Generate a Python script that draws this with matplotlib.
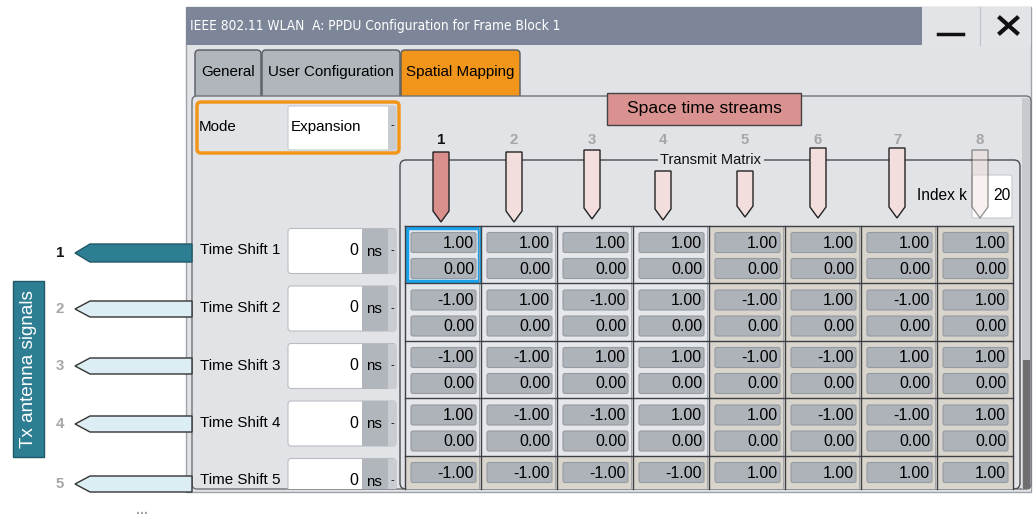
import matplotlib
matplotlib.use('Agg')
import matplotlib.pyplot as plt
from matplotlib import font_manager
from matplotlib.patches import Rectangle, FancyBboxPatch, Polygon

# dialog content
title = 'IEEE 802.11 WLAN  A: PPDU Configuration for Frame Block 1'
tabs = ['General', 'User Configuration', 'Spatial Mapping']
active_tab = 2
mode = 'Expansion'
streams = ['1', '2', '3', '4', '5', '6', '7', '8']
antennas = ['1', '2', '3', '4', '5']
time_shift = [0, 0, 0, 0, 0]
time_unit = 'ns'
index_k = 20
matrix_re = [
    [1, 1, 1, 1, 1, 1, 1, 1],
    [-1, 1, -1, 1, -1, 1, -1, 1],
    [-1, -1, 1, 1, -1, -1, 1, 1],
    [1, -1, -1, 1, 1, -1, -1, 1],
    [-1, -1, -1, -1, 1, 1, 1, 1],
]
matrix_im = [
    [0, 0, 0, 0, 0, 0, 0, 0],
    [0, 0, 0, 0, 0, 0, 0, 0],
    [0, 0, 0, 0, 0, 0, 0, 0],
    [0, 0, 0, 0, 0, 0, 0, 0],
]

# layout (pixels)
stream_x = [441, 514, 592, 663, 745, 818, 897, 980]
stream_top = [152, 152, 150, 171, 171, 148, 148, 150]
stream_tip = [222, 222, 219, 220, 217, 218, 218, 218]
col0, col_w = 405, 76
row0, row_h = 225.5, 57.5
panel_bottom = 489

UI = 'Liberation Sans'


def pick_title_font():
    # narrow font for the title bar, whatever is around
    fp = font_manager.FontProperties(family='DejaVu Sans', stretch='condensed')
    path = font_manager.findfont(fp)
    if 'Condensed' in path:
        return dict(family='DejaVu Sans', stretch='condensed'), 9.8
    try:
        font_manager.findfont(font_manager.FontProperties(family='Liberation Sans Narrow'),
                              fallback_to_default=False)
        return dict(family='Liberation Sans Narrow'), 12.2
    except ValueError:
        return dict(family=UI), 9.9


title_font, title_size = pick_title_font()

BODY = '#e1e3e7'
ORANGE = '#f2961b'
TEAL = '#2e7e93'
GRAYTAB = '#b1b6bc'
LIGHT = '#e5e7eb'
BEIGE = '#d9d5cc'
CELL = '#aeb3b9'

fig = plt.figure(figsize=(10.33, 5.19), dpi=100)
ax = fig.add_axes([0, 0, 1, 1])
ax.set_xlim(0, 1033)
ax.set_ylim(519, 0)
ax.axis('off')

panel_clip = Rectangle((192, 96), 839, panel_bottom - 96, transform=ax.transData)


def box(x0, y0, x1, y1, fc, ec='none', lw=1, r=0, clip=False, **kw):
    if r:
        p = FancyBboxPatch((x0, y0), x1 - x0, y1 - y0,
                           boxstyle=f'round,pad=0,rounding_size={r}',
                           fc=fc, ec=ec, lw=lw, **kw)
    else:
        p = Rectangle((x0, y0), x1 - x0, y1 - y0, fc=fc, ec=ec, lw=lw, **kw)
    ax.add_patch(p)
    if clip:
        p.set_clip_path(panel_clip)
    return p


def txt(x, y, s, size, clip=False, **kw):
    kw.setdefault('va', 'center')
    kw.setdefault('family', UI)
    t = ax.text(x, y, s, fontsize=size, **kw)
    if clip:
        t.set_clip_path(panel_clip)
    return t


# window frame and title bar
box(186, 7, 1031, 492, BODY, '#9ea3a9', 1)
box(186, 7, 1031, 45, '#7c8698')
box(922, 7, 1031, 45, '#e2e4e8')
ax.plot([980, 980], [7, 45], color='#c3c7cc', lw=1)
ax.plot([938, 963], [34, 34], color='#111111', lw=2.5)
ax.plot([1000, 1017], [18, 33], color='#111111', lw=3)
ax.plot([1000, 1017], [33, 18], color='#111111', lw=3)
txt(190, 26, title, title_size, color='white', **title_font)

# tabs
tab_x = [195, 262, 401, 521]
for i, name in enumerate(tabs):
    fc = ORANGE if i == active_tab else GRAYTAB
    box(tab_x[i], 50, tab_x[i + 1] - 1, 100, fc, '#555a60', 1, r=4)
    txt((tab_x[i] + tab_x[i + 1] - 1) / 2, 72, name, 10.9, ha='center')

# content panel
box(192, 96, 1031, panel_bottom, BODY, '#6f7378', 1, r=5)

# mode selector
box(197, 102, 399, 153, BODY, ORANGE, 2.5, r=4)
txt(199, 127, 'Mode', 10.9)
box(288, 106, 396, 150, 'white', '#c6cacf', 0.8, r=2)
box(388, 106, 396, 150, '#c9cdd1')
txt(291, 127, mode, 10.9)
txt(392, 125, '-', 8, ha='center')

# transmit matrix group
box(400, 160, 1020, panel_bottom, 'none', '#4a4e53', 1, r=6, clip=True)
txt(711, 160, 'Transmit Matrix', 10.5, ha='center', color='#111111',
    bbox=dict(fc=BODY, ec='none', pad=2))

# index k
txt(917, 196, 'Index k', 11.2)
box(972, 175, 1012, 218, 'white', '#c6cacf', 0.8, r=2)
txt(1010, 196, str(index_k), 11.2, ha='right')

# matrix cells
for i, row in enumerate(matrix_re):
    y = row0 + i * row_h
    for j, v in enumerate(row):
        x = col0 + j * col_w
        fc = LIGHT if (i < 4 and j < 4) else BEIGE
        box(x, y, x + col_w, y + row_h, fc, clip=True)
        box(x + 6, y + 7, x + 71, y + 27, CELL, '#959ba2', 0.8, r=2, clip=True)
        txt(x + 69, y + 17.5, f'{v:.2f}', 11.5, ha='right', clip=True)
        if i < len(matrix_im):
            box(x + 6, y + 33, x + 71, y + 53, CELL, '#959ba2', 0.8, r=2, clip=True)
            txt(x + 69, y + 43.5, f'{matrix_im[i][j]:.2f}', 11.5, ha='right', clip=True)
for j in range(len(streams) + 1):
    x = col0 + j * col_w
    ax.plot([x, x], [row0, panel_bottom], color='#3c3f43', lw=1)
    if 0 < j < len(streams):
        ax.plot([x - 2, x - 2], [row0, panel_bottom], color='#9a9ea3', lw=0.6)
for i in range(len(antennas)):
    y = row0 + i * row_h
    ax.plot([col0, col0 + len(streams) * col_w], [y, y], color='#3c3f43', lw=1)
box(407, 228, 479, 281, 'none', '#1aa3ec', 2.5)

# time shift fields
for i, ts in enumerate(time_shift):
    cy = row0 + i * row_h + 25
    txt(200, cy, f'Time Shift {antennas[i]}', 10.9, clip=True)
    box(288, cy - 22, 396, cy + 23, 'white', '#b9bdc2', 0.8, r=3, clip=True)
    box(362, cy - 22, 388, cy + 23, GRAYTAB, clip=True)
    box(388, cy - 22, 396, cy + 23, '#c9cdd1', clip=True)
    txt(358, cy, str(ts), 11.5, ha='right', clip=True)
    txt(366, cy + 1, time_unit, 10.9, clip=True)
    txt(392, cy, '-', 8, ha='center', clip=True)

# scrollbar
box(1022, 98, 1030, panel_bottom, '#c8cacd')
box(1023, 360, 1030, panel_bottom, '#6e6e6e')

# space time streams overlay
box(607, 93, 801, 125, '#d9928f', '#444444', 1)
txt(704, 109, 'Space time streams', 12.6, ha='center')
for j, s in enumerate(streams):
    cx, top, tip = stream_x[j], stream_top[j], stream_tip[j]
    fc = '#d9908d' if j == 0 else '#f3dede'
    alpha = 0.45 if j == len(streams) - 1 else 1
    ax.add_patch(Polygon([(cx - 8, top), (cx + 8, top), (cx + 8, tip - 11),
                          (cx, tip), (cx - 8, tip - 11)],
                         closed=True, fc=fc, ec='#222222', lw=1, alpha=alpha))
    txt(cx, 140, s, 10.8, ha='center', weight='bold',
        color='#111111' if j == 0 else '#a6a6a6')

# tx antenna overlay
ant_y = [253, 309, 366, 424, 484]
for i, a in enumerate(antennas):
    cy = ant_y[i]
    h = 9 if i == 0 else 8
    fc = TEAL if i == 0 else '#dcedf3'
    ec = '#1f5866' if i == 0 else '#333333'
    ax.add_patch(Polygon([(75, cy), (90, cy - h), (192, cy - h),
                          (192, cy + h), (90, cy + h)],
                         closed=True, fc=fc, ec=ec, lw=1))
    txt(60, cy, a, 10.8, ha='center', weight='bold',
        color='#111111' if i == 0 else '#a6a6a6')
box(13, 281, 44, 457, TEAL, '#1f5866', 1)
txt(28.5, 369, 'Tx antenna signals', 13.6, ha='center', rotation=90, color='white')
txt(142, 510, '...', 10, ha='center', color='#a6a6a6', weight='bold')

fig.savefig('out.png', dpi=100)
